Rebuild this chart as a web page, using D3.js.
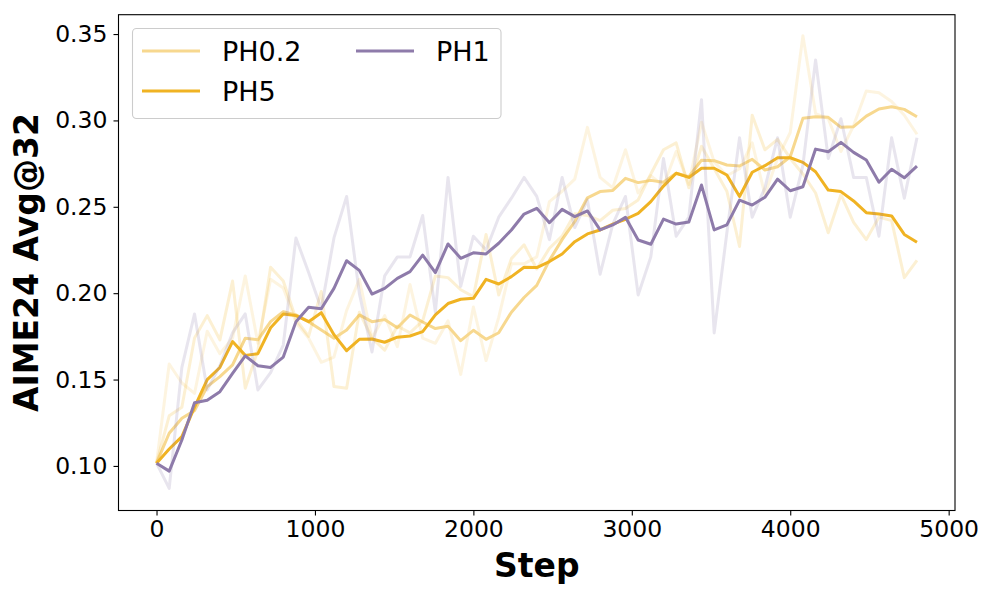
<!DOCTYPE html>
<html>
<head>
<meta charset="utf-8">
<script src="https://cdn.jsdelivr.net/npm/d3@7"></script>
<style>
  html, body { margin: 0; padding: 0; background: #fff; }
  svg { display: block; font-family: "DejaVu Sans", sans-serif; }
</style>
</head>
<body>
<div id="chart"></div>
<script>
// training steps, one eval every 80 steps
const steps = d3.range(0, 4801, 80);

const ph02Raw = [0.1016, 0.159, 0.148, 0.142, 0.178, 0.165, 0.174, 0.210, 0.171, 0.208,
  0.203, 0.183, 0.174, 0.160, 0.163, 0.190, 0.208, 0.174, 0.187, 0.169,
  0.205, 0.174, 0.171, 0.184, 0.153, 0.192, 0.161, 0.186, 0.217, 0.217,
  0.221, 0.253, 0.259, 0.266, 0.296, 0.267, 0.261, 0.283, 0.258, 0.268,
  0.262, 0.282, 0.263, 0.299, 0.276, 0.268, 0.272, 0.287, 0.257, 0.278,
  0.293, 0.349, 0.304, 0.301, 0.282, 0.297, 0.317, 0.316, 0.311, 0.303, 0.292];
const ph02Smooth = [0.1016, 0.1189, 0.1276, 0.132, 0.1459, 0.1517, 0.1585, 0.1739, 0.173, 0.1835,
  0.1893, 0.1874, 0.1835, 0.1787, 0.1739, 0.1787, 0.1874, 0.1835, 0.1847, 0.180,
  0.1874, 0.1833, 0.1795, 0.1808, 0.1725, 0.1785, 0.1733, 0.1771, 0.189, 0.1975,
  0.2045, 0.219, 0.231, 0.2415, 0.2552, 0.2588, 0.2595, 0.2665, 0.264, 0.2653,
  0.2642, 0.2694, 0.2674, 0.277, 0.2767, 0.2742, 0.2736, 0.2775, 0.2713, 0.2732,
  0.279, 0.3012, 0.3021, 0.3018, 0.296, 0.2964, 0.3025, 0.3066, 0.3079, 0.3064, 0.3021];

const ph5Raw = [0.1016, 0.129, 0.134, 0.174, 0.187, 0.173, 0.207, 0.145, 0.167, 0.215,
  0.207, 0.185, 0.175, 0.201, 0.146, 0.145, 0.189, 0.174, 0.167, 0.181,
  0.177, 0.184, 0.210, 0.209, 0.202, 0.198, 0.234, 0.199, 0.220, 0.228,
  0.214, 0.226, 0.233, 0.246, 0.245, 0.242, 0.248, 0.249, 0.254, 0.269,
  0.283, 0.287, 0.261, 0.285, 0.272, 0.259, 0.227, 0.303, 0.283, 0.289,
  0.278, 0.269, 0.258, 0.235, 0.257, 0.241, 0.231, 0.244, 0.242, 0.209, 0.219];
const ph5Smooth = [0.1016, 0.1098, 0.117, 0.134, 0.150, 0.157, 0.172, 0.164, 0.165, 0.180,
  0.188, 0.187, 0.1835, 0.1887, 0.176, 0.1667, 0.1733, 0.1735, 0.1716, 0.1745,
  0.1752, 0.1777, 0.1874, 0.194, 0.1965, 0.197, 0.208, 0.2053, 0.2096, 0.215,
  0.2148, 0.2183, 0.2227, 0.2298, 0.2343, 0.2366, 0.240, 0.2428, 0.2462, 0.253,
  0.262, 0.2694, 0.267, 0.2723, 0.2723, 0.2684, 0.256, 0.270, 0.2738, 0.2784,
  0.2784, 0.2757, 0.2703, 0.2597, 0.2588, 0.2534, 0.2466, 0.2458, 0.2447, 0.234, 0.2295];

const ph1Raw = [0.1016, 0.087, 0.157, 0.188, 0.144, 0.158, 0.177, 0.188, 0.144, 0.154,
  0.170, 0.232, 0.212, 0.191, 0.232, 0.256, 0.200, 0.166, 0.210, 0.221,
  0.221, 0.245, 0.189, 0.267, 0.204, 0.233, 0.225, 0.244, 0.255, 0.267,
  0.256, 0.231, 0.267, 0.238, 0.254, 0.211, 0.240, 0.256, 0.199, 0.221,
  0.278, 0.233, 0.244, 0.312, 0.177, 0.235, 0.290, 0.244, 0.261, 0.290,
  0.244, 0.274, 0.335, 0.278, 0.301, 0.267, 0.267, 0.233, 0.290, 0.255, 0.290];
const ph1Smooth = [0.1016, 0.097, 0.115, 0.1366, 0.138, 0.143, 0.1536, 0.1637, 0.158, 0.157,
  0.163, 0.1835, 0.1918, 0.191, 0.2028, 0.2188, 0.2132, 0.1995, 0.2028, 0.2086,
  0.2125, 0.222, 0.2119, 0.2285, 0.2202, 0.2234, 0.2227, 0.2289, 0.2366, 0.2458,
  0.2491, 0.2408, 0.2485, 0.2443, 0.2476, 0.2366, 0.2395, 0.2439, 0.2308, 0.2283,
  0.2429, 0.240, 0.2412, 0.2626, 0.2366, 0.2395, 0.2539, 0.251, 0.2555, 0.266,
  0.2593, 0.2616, 0.2834, 0.2819, 0.2873, 0.2815, 0.2771, 0.2642, 0.2717, 0.2668, 0.2736];

const xTicks = [0, 1000, 2000, 3000, 4000, 5000];
const yTicks = [0.10, 0.15, 0.20, 0.25, 0.30, 0.35];

const series = [
  {name: "PH0.2", color: "#F7D88F", raw: ph02Raw, smooth: ph02Smooth, rawOpacity: 0.28},
  {name: "PH5", color: "#F0B323", raw: ph5Raw, smooth: ph5Smooth, rawOpacity: 0.2},
  {name: "PH1", color: "#8E7BAA", raw: ph1Raw, smooth: ph1Smooth, rawOpacity: 0.2}
];

const width = 996, height = 598;
const plot = {left: 118.5, right: 955, top: 14.7, bottom: 510.5};

const x = d3.scaleLinear().domain([-240, 5040]).range([plot.left, plot.right]);
const y = d3.scaleLinear().domain([0.0742, 0.3612]).range([plot.bottom, plot.top]);

const svg = d3.select("#chart").append("svg")
    .attr("width", width)
    .attr("height", height);

svg.append("clipPath").attr("id", "clip")
  .append("rect")
    .attr("x", plot.left).attr("y", plot.top)
    .attr("width", plot.right - plot.left).attr("height", plot.bottom - plot.top);

const line = d3.line()
    .x((d, i) => x(steps[i]))
    .y(d => y(d));

const lines = svg.append("g").attr("clip-path", "url(#clip)");

series.forEach(s => {
    lines.append("path")
        .attr("d", line(s.raw))
        .attr("fill", "none")
        .attr("stroke", s.color)
        .attr("stroke-opacity", s.rawOpacity)
        .attr("stroke-width", 3)
        .attr("stroke-linejoin", "round");
    lines.append("path")
        .attr("d", line(s.smooth))
        .attr("fill", "none")
        .attr("stroke", s.color)
        .attr("stroke-width", 3)
        .attr("stroke-linejoin", "round");
});

// axes
const xAxis = svg.append("g")
    .attr("transform", `translate(0,${plot.bottom})`)
    .call(d3.axisBottom(x).tickValues(xTicks).tickFormat(d3.format("d")).tickSize(5).tickPadding(5).tickSizeOuter(0));
const yAxis = svg.append("g")
    .attr("transform", `translate(${plot.left},0)`)
    .call(d3.axisLeft(y).tickValues(yTicks).tickFormat(d3.format(".2f")).tickSize(5).tickPadding(6).tickSizeOuter(0));

[xAxis, yAxis].forEach(a => {
    a.select(".domain").remove();
    a.selectAll(".tick line").attr("stroke", "#000").attr("stroke-width", 1.1);
    a.selectAll(".tick text")
        .attr("font-family", "DejaVu Sans")
        .attr("font-size", 23.5)
        .attr("fill", "#000");
});

svg.append("rect")
    .attr("x", plot.left).attr("y", plot.top)
    .attr("width", plot.right - plot.left).attr("height", plot.bottom - plot.top)
    .attr("fill", "none")
    .attr("stroke", "#000")
    .attr("stroke-width", 1.1);

svg.append("text")
    .attr("x", (plot.left + plot.right) / 2)
    .attr("y", 577)
    .attr("text-anchor", "middle")
    .attr("font-size", 33)
    .attr("font-weight", "bold")
    .text("Step");

svg.append("text")
    .attr("transform", `translate(38,${(plot.top + plot.bottom) / 2}) rotate(-90)`)
    .attr("text-anchor", "middle")
    .attr("font-size", 33)
    .attr("font-weight", "bold")
    .text("AIME24 Avg@32");

// legend
const legend = svg.append("g");
legend.append("rect")
    .attr("x", 132.5).attr("y", 28.5)
    .attr("width", 368.5).attr("height", 90)
    .attr("rx", 4)
    .attr("fill", "#fff").attr("fill-opacity", 0.8)
    .attr("stroke", "#ccc").attr("stroke-width", 1.1);

const legendPos = [
    {x: 142, y: 51},
    {x: 142, y: 91},
    {x: 356, y: 51}
];
series.forEach((s, i) => {
    const p = legendPos[i];
    legend.append("line")
        .attr("x1", p.x).attr("x2", p.x + 58)
        .attr("y1", p.y).attr("y2", p.y)
        .attr("stroke", s.color)
        .attr("stroke-width", 3);
    legend.append("text")
        .attr("x", p.x + 80)
        .attr("y", p.y)
        .attr("dy", "0.36em")
        .attr("font-size", 27)
        .text(s.name);
});
</script>
</body>
</html>
